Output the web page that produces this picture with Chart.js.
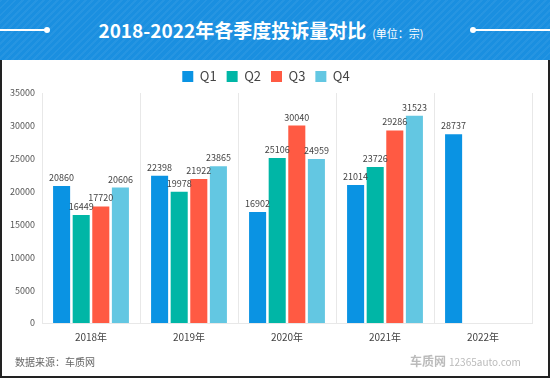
<!DOCTYPE html>
<html><head><meta charset="utf-8">
<script src="https://cdn.jsdelivr.net/npm/chart.js@4/dist/chart.umd.min.js"></script>
<style>
html,body{margin:0;padding:0;width:550px;height:380px;overflow:hidden;background:#fff;font-family:"Noto Sans CJK SC","Noto Sans",sans-serif;}
#header{position:absolute;left:0;top:0;width:550px;height:60px;background:#1a8fe0;
 background-image:repeating-linear-gradient(135deg,rgba(255,255,255,0.05) 0 2px,rgba(0,0,0,0) 2px 5px);}
#title{position:absolute;left:0;top:0;width:522px;padding-right:28px;height:60px;line-height:60px;text-align:center;color:#fff;white-space:nowrap;}
#title b{font-size:19px;font-weight:700;letter-spacing:0px;}
#title span{font-size:11px;margin-left:6px;}
.dl{position:absolute;top:29px;height:2px;background:#fff;}
.dot{position:absolute;top:27px;width:6px;height:6px;border-radius:3px;background:#fff;}
#panel{position:absolute;left:0;top:60px;width:546px;height:316px;border:2px solid #222;border-top:none;background:#fff;}
#wrap{position:absolute;left:0;top:60px;width:550px;height:300px;}
#src{position:absolute;left:15px;top:354px;font-size:10px;color:#666;}
#wm{position:absolute;left:410px;top:352px;font-size:12px;color:#bbb;font-weight:700;}
#wm i{font-style:normal;font-size:10px;font-weight:400;margin-left:3px;}
</style></head>
<body>
<div id="header"></div>
<div class="dl" style="left:0;width:46px"></div><div class="dot" style="left:44px"></div>
<div class="dl" style="left:474px;width:76px"></div><div class="dot" style="left:470px"></div>
<div id="title"><b>2018-2022年各季度投诉量对比</b><span>(单位：宗)</span></div>
<div id="panel"></div>
<div id="wrap"><canvas id="c" width="550" height="300"></canvas></div>
<div id="src">数据来源：车质网</div>
<div id="wm">车质网<i>12365auto.com</i></div>
<script>
const categories = ["2018年","2019年","2020年","2021年","2022年"];
const seriesNames = ["Q1","Q2","Q3","Q4"];
const q1 = [20860, 22398, 16902, 21014, 28737];
const q2 = [16449, 19978, 25106, 23726, null];
const q3 = [17720, 21922, 30040, 29286, null];
const q4 = [20606, 23865, 24959, 31523, null];
const colors = ["#0a93e3","#00b6a6","#ff5a43","#63c7e2"];
const yTicks = [0,5000,10000,15000,20000,25000,30000,35000];

const labelPlugin = {
  id:'vals',
  afterDatasetsDraw(chart){
    const ctx = chart.ctx;
    ctx.save();
    ctx.font = '9px "Noto Sans CJK SC", sans-serif';
    ctx.fillStyle = '#444';
    ctx.textAlign = 'center';
    ctx.textBaseline = 'bottom';
    chart.data.datasets.forEach((ds,i)=>{
      const meta = chart.getDatasetMeta(i);
      meta.data.forEach((el,j)=>{
        const v = ds.data[j];
        if(v==null) return;
        ctx.fillText(String(v), el.x, el.y-4);
      });
    });
    ctx.restore();
  }
};

new Chart(document.getElementById('c'),{
  type:'bar',
  data:{labels:categories,datasets:[q1,q2,q3,q4].map((d,i)=>({
    label:seriesNames[i],data:d,backgroundColor:colors[i],
    categoryPercentage:0.8,barPercentage:0.87
  }))},
  options:{
    responsive:false,animation:false,
    layout:{padding:{left:0,right:18,top:0,bottom:0}},
    plugins:{
      legend:{position:'top',labels:{boxWidth:11,boxHeight:11,padding:10,color:'#444',
        font:{size:13,family:'"Noto Sans CJK SC", sans-serif'}}},
      tooltip:{enabled:false}
    },
    scales:{
      x:{grid:{display:true,color:'#e8e8e8',drawTicks:false,offset:true},
         border:{color:'#e8e8e8'},
         ticks:{color:'#444',padding:8,font:{size:10,family:'"Noto Sans CJK SC", sans-serif'}},
         afterFit(s){s.height=37;}},
      y:{min:0,max:35000,grid:{display:false,drawTicks:false},
         border:{color:'#e8e8e8'},
         afterBuildTicks(s){s.ticks=yTicks.map(v=>({value:v}));},
         ticks:{color:'#555',padding:7,font:{size:9,family:'"Noto Sans CJK SC", sans-serif'},
           callback:(v)=>String(v)},
         afterFit(s){s.width=42;}}
    }
  },
  plugins:[labelPlugin]
});
</script>
</body></html>
